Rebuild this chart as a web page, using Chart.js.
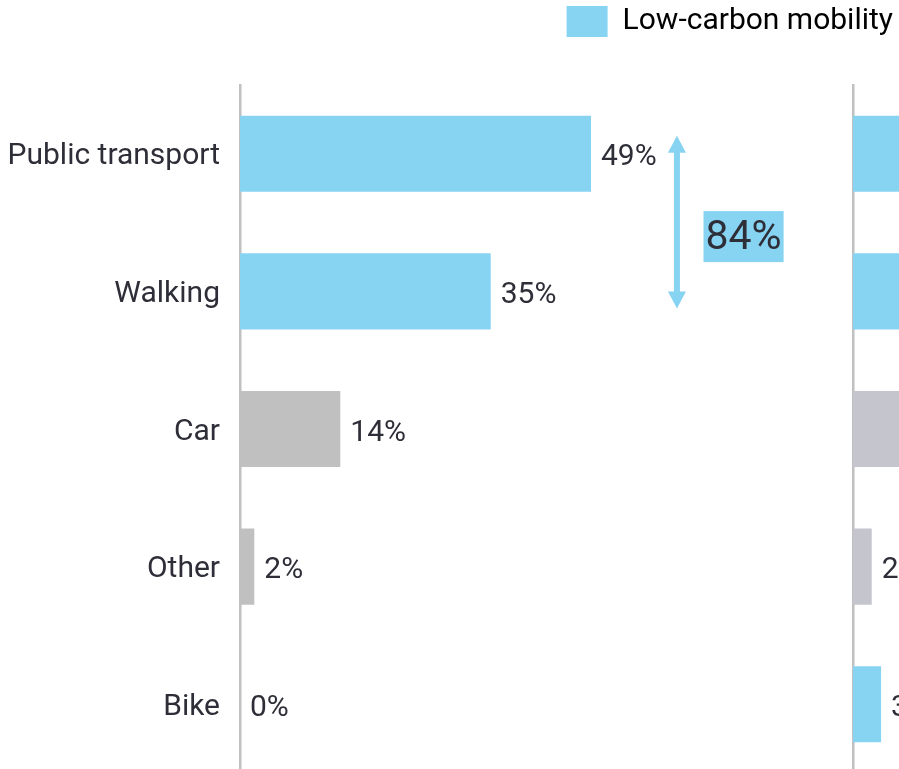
<!DOCTYPE html>
<html>
<head>
<meta charset="utf-8">
<script src="https://cdn.jsdelivr.net/npm/chart.js@4/dist/chart.umd.min.js"></script>
<style>
  html, body { margin: 0; padding: 0; background: #ffffff; overflow: hidden; }
  #wrap { position: relative; width: 899px; height: 769px; overflow: hidden; }
  #mainChart { position: absolute; left: 0; top: 0; }
  #sideChart { position: absolute; left: 851px; top: 0; }
</style>
</head>
<body>
<div id="wrap">
  <canvas id="mainChart" width="899" height="773"></canvas>
  <canvas id="sideChart" width="470" height="773"></canvas>
</div>
<script>
// Transport modes and their shares (%)
const categories = ['Public transport', 'Walking', 'Car', 'Other', 'Bike'];
const mainValues = [49, 35, 14, 2, 0];
const sideValues = [45, 30, 18, 2, 3];
const lowCarbon = [true, true, false, false, true];
const legendLabel = 'Low-carbon mobility';

const BLUE = '#87d3f2';
const GREY = '#c0c0c0';
const GREY_SIDE = '#c5c5cd';
const TEXT = '#2e2e38';
const AXIS = '#c0c0c0';
const FONT = 'Roboto, "Liberation Sans", sans-serif';
const FONT_SIZE = 30;

Chart.defaults.font.family = FONT;
Chart.defaults.color = TEXT;

// Percentage label to the right of each bar
const valueLabels = {
  id: 'valueLabels',
  afterDatasetsDraw(chart) {
    const ctx = chart.ctx;
    const meta = chart.getDatasetMeta(0);
    const data = chart.data.datasets[0].data;
    ctx.save();
    ctx.font = FONT_SIZE + 'px ' + FONT;
    ctx.fillStyle = TEXT;
    ctx.textAlign = 'left';
    ctx.textBaseline = 'middle';
    meta.data.forEach((bar, i) => {
      ctx.fillText(data[i] + '%', bar.x + 10, bar.y + 4);
    });
    ctx.restore();
  }
};

// Double-headed arrow spanning the two low-carbon modes with their combined share
const combinedShare = {
  id: 'combinedShare',
  afterDatasetsDraw(chart) {
    const ctx = chart.ctx;
    const x = chart.scales.x;
    const y = chart.scales.y;
    const total = mainValues[0] + mainValues[1];
    const ax = x.getPixelForValue(61);
    const yTop = y.getPixelForValue(0) - 18;
    const yBot = y.getPixelForValue(1) + 17;
    const head = 17, half = 9;
    ctx.save();
    ctx.strokeStyle = BLUE;
    ctx.fillStyle = BLUE;
    ctx.lineWidth = 6;
    ctx.beginPath();
    ctx.moveTo(ax, yTop + head - 1);
    ctx.lineTo(ax, yBot - head + 1);
    ctx.stroke();
    ctx.beginPath();
    ctx.moveTo(ax, yTop);
    ctx.lineTo(ax - half, yTop + head);
    ctx.lineTo(ax + half, yTop + head);
    ctx.closePath();
    ctx.fill();
    ctx.beginPath();
    ctx.moveTo(ax, yBot);
    ctx.lineTo(ax - half, yBot - head);
    ctx.lineTo(ax + half, yBot - head);
    ctx.closePath();
    ctx.fill();

    const cx = x.getPixelForValue(70.3);
    const cy = (y.getPixelForValue(0) + y.getPixelForValue(1)) / 2 + 14;
    const label = total + '%';
    ctx.font = '41px ' + FONT;
    const w = ctx.measureText(label).width + 4;
    const h = 51;
    ctx.fillRect(cx - w / 2, cy - h / 2, w, h);
    ctx.fillStyle = TEXT;
    ctx.textAlign = 'center';
    ctx.textBaseline = 'middle';
    ctx.fillText(label, cx, cy + 2);
    ctx.restore();
  }
};

// Reserve a fixed band at the top for the legend
const legendBand = {
  id: 'legendBand',
  beforeLayout(chart) {
    const lg = chart.legend;
    if (lg && !lg._bandPatched) {
      const orig = lg.fit;
      lg.fit = function () { orig.call(this); this.height = 85; };
      lg._bandPatched = true;
    }
  }
};

// Category axis occupying a fixed width, with no extra vertical padding
function fixAxis(width) {
  return function (scale) {
    scale.width = width;
    scale.paddingTop = 0;
    scale.paddingBottom = 0;
  };
}

new Chart(document.getElementById('mainChart'), {
  type: 'bar',
  data: {
    labels: categories,
    datasets: [{
      label: legendLabel,
      data: mainValues,
      backgroundColor: lowCarbon.map(l => l ? BLUE : GREY),
      borderWidth: 0,
      categoryPercentage: 0.553,
      barPercentage: 1
    }]
  },
  options: {
    indexAxis: 'y',
    responsive: false,
    devicePixelRatio: 1,
    animation: false,
    layout: { padding: 0 },
    scales: {
      x: { display: false, min: 0, max: 92 },
      y: {
        grid: { display: false, drawTicks: false },
        border: { display: true, color: AXIS, width: 2.5 },
        ticks: { padding: 20, labelOffset: 3, color: TEXT, font: { size: FONT_SIZE } },
        afterFit: fixAxis(240)
      }
    },
    plugins: {
      legend: {
        position: 'top',
        align: 'end',
        labels: {
          boxWidth: 41,
          boxHeight: 31,
          padding: 6,
          color: TEXT,
          font: { size: FONT_SIZE },
          generateLabels() {
            return [{ text: legendLabel, fillStyle: BLUE, strokeStyle: BLUE, lineWidth: 0, hidden: false, datasetIndex: 0 }];
          }
        }
      },
      tooltip: { enabled: false }
    }
  },
  plugins: [legendBand, valueLabels, combinedShare]
});

new Chart(document.getElementById('sideChart'), {
  type: 'bar',
  data: {
    labels: categories,
    datasets: [{
      data: sideValues,
      backgroundColor: lowCarbon.map(l => l ? BLUE : GREY_SIDE),
      borderWidth: 0,
      categoryPercentage: 0.553,
      barPercentage: 1
    }]
  },
  options: {
    indexAxis: 'y',
    responsive: false,
    devicePixelRatio: 1,
    animation: false,
    layout: { padding: { top: 85 } },
    scales: {
      x: { display: false, min: 0, max: 50 },
      y: {
        grid: { display: false, drawTicks: false },
        border: { display: true, color: AXIS, width: 2.5 },
        ticks: { display: false },
        afterFit: fixAxis(2)
      }
    },
    plugins: { legend: { display: false }, tooltip: { enabled: false } }
  },
  plugins: [valueLabels]
});
</script>
</body>
</html>
